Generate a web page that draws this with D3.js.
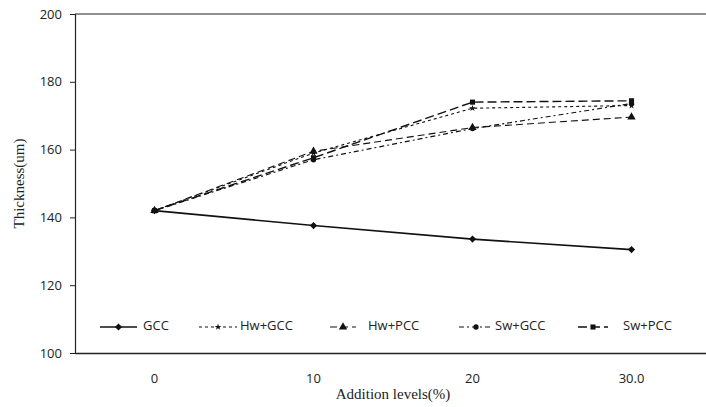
<!DOCTYPE html>
<html>
<head>
<meta charset="utf-8">
<script src="https://cdn.jsdelivr.net/npm/d3@7"></script>
<style>
  body { margin: 0; background: #fff; }
  svg { display: block; }
</style>
</head>
<body>
<div id="chart"></div>
<script>
// values
const levels = ["0", "10", "20", "30.0"];
const seriesNames = ["GCC", "Hw+GCC", "Hw+PCC", "Sw+GCC", "Sw+PCC"];
const gcc   = [142, 137.6, 133.6, 130.5];
const hwGcc = [142, 159, 172.2, 173];
const hwPcc = [142, 159.5, 166.5, 169.6];
const swGcc = [142, 157, 166.2, 173.6];
const swPcc = [142, 157.6, 174, 174.4];
const yTicks = [100, 120, 140, 160, 180, 200];

const series = [
  { name: seriesNames[0], values: gcc,   dash: null,        width: 1.6, marker: "diamond" },
  { name: seriesNames[1], values: hwGcc, dash: "3,3",       width: 1.1, marker: "star" },
  { name: seriesNames[2], values: hwPcc, dash: "7,4",       width: 1.1, marker: "triangle" },
  { name: seriesNames[3], values: swGcc, dash: "5,3,2,3",   width: 1.1, marker: "circle" },
  { name: seriesNames[4], values: swPcc, dash: "9,4",       width: 1.4, marker: "square" }
];

const width = 706, height = 407,
      margin = ({ top: 14, right: -5, bottom: 54, left: 75 });

let svg = d3.select("#chart")
  .append("svg")
  .attr("width", width)
  .attr("height", height);

let x = d3.scaleBand()
  .domain(levels)
  .range([margin.left, width - margin.right]);

let y = d3.scaleLinear()
  .domain([100, 200])
  .range([height - margin.bottom, margin.top]);

// top border line at 200
svg.append("line")
  .attr("x1", margin.left).attr("x2", width)
  .attr("y1", y(200)).attr("y2", y(200))
  .attr("stroke", "#222").attr("stroke-width", 1.2);

// y axis
let yAxis = svg.append("g")
  .attr("transform", `translate(${margin.left},0)`)
  .call(d3.axisLeft(y).tickValues(yTicks).tickSize(5).tickPadding(8));
yAxis.select(".domain").attr("stroke", "#222").attr("stroke-width", 1.2);
yAxis.selectAll("line").attr("stroke", "#222");
yAxis.selectAll("text")
  .style("font-family", "'Open Sans', sans-serif")
  .style("font-size", "13px")
  .attr("fill", "#222");

// x axis
let xAxis = svg.append("g")
  .attr("transform", `translate(0,${y(100)})`)
  .call(d3.axisBottom(x).tickSize(0).tickPadding(21));
xAxis.select(".domain").attr("stroke", "#222").attr("stroke-width", 1.4);
xAxis.selectAll("text")
  .style("font-family", "'Open Sans', sans-serif")
  .style("font-size", "13px")
  .attr("fill", "#222");

// axis titles
svg.append("text")
  .attr("transform", `translate(24,${(y(100) + y(200)) / 2}) rotate(-90)`)
  .attr("text-anchor", "middle")
  .style("font-family", "'Liberation Serif', serif")
  .style("font-size", "15px")
  .attr("fill", "#222")
  .text("Thickness(um)");

svg.append("text")
  .attr("x", 393)
  .attr("y", 399)
  .attr("text-anchor", "middle")
  .style("font-family", "'Liberation Serif', serif")
  .style("font-size", "15px")
  .attr("fill", "#222")
  .text("Addition levels(%)");

const cx = (d, i) => x(levels[i]) + x.bandwidth() / 2;

const markerPath = {
  diamond: d3.symbol(d3.symbolSquare, 26)(),
  star: d3.symbol(d3.symbolStar, 14)(),
  triangle: d3.symbol(d3.symbolTriangle, 30)(),
  circle: d3.symbol(d3.symbolCircle, 22)(),
  square: d3.symbol(d3.symbolSquare, 26)()
};
const markerRot = { diamond: 45, star: 0, triangle: 0, circle: 0, square: 0 };

let line = d3.line()
  .x(cx)
  .y(d => y(d));

let lines = svg.selectAll(".series")
  .data(series)
  .join("g")
  .attr("class", "series");

lines.append("path")
  .attr("d", d => line(d.values))
  .attr("fill", "none")
  .attr("stroke", "#111")
  .attr("stroke-width", d => d.width)
  .attr("stroke-dasharray", d => d.dash);

lines.selectAll(".pt")
  .data(d => d.values.map((v, i) => ({ v, i, marker: d.marker })))
  .join("path")
  .attr("class", "pt")
  .attr("transform", d => `translate(${cx(null, d.i)},${y(d.v)}) rotate(${markerRot[d.marker]})`)
  .attr("d", d => markerPath[d.marker])
  .attr("fill", "#111");

// legend
const legendX = [100, 199, 330, 459, 578];
const legendLen = [37, 38, 26, 34, 30];
const legendTextX = [143, 240, 368, 495, 623];
const legendY = 327;

let legend = svg.selectAll(".legend")
  .data(series)
  .join("g")
  .attr("class", "legend");

legend.append("line")
  .attr("x1", (d, i) => legendX[i])
  .attr("x2", (d, i) => legendX[i] + legendLen[i])
  .attr("y1", legendY).attr("y2", legendY)
  .attr("stroke", "#111")
  .attr("stroke-width", d => d.width)
  .attr("stroke-dasharray", d => d.dash);

legend.append("path")
  .attr("transform", (d, i) => `translate(${legendX[i] + legendLen[i] / 2},${legendY}) rotate(${markerRot[d.marker]})`)
  .attr("d", d => markerPath[d.marker])
  .attr("fill", "#111");

legend.append("text")
  .attr("x", (d, i) => legendTextX[i])
  .attr("y", legendY)
  .attr("dominant-baseline", "middle")
  .style("font-family", "'Open Sans', sans-serif")
  .style("font-size", "13px")
  .attr("fill", "#222")
  .text(d => d.name);
</script>
</body>
</html>
